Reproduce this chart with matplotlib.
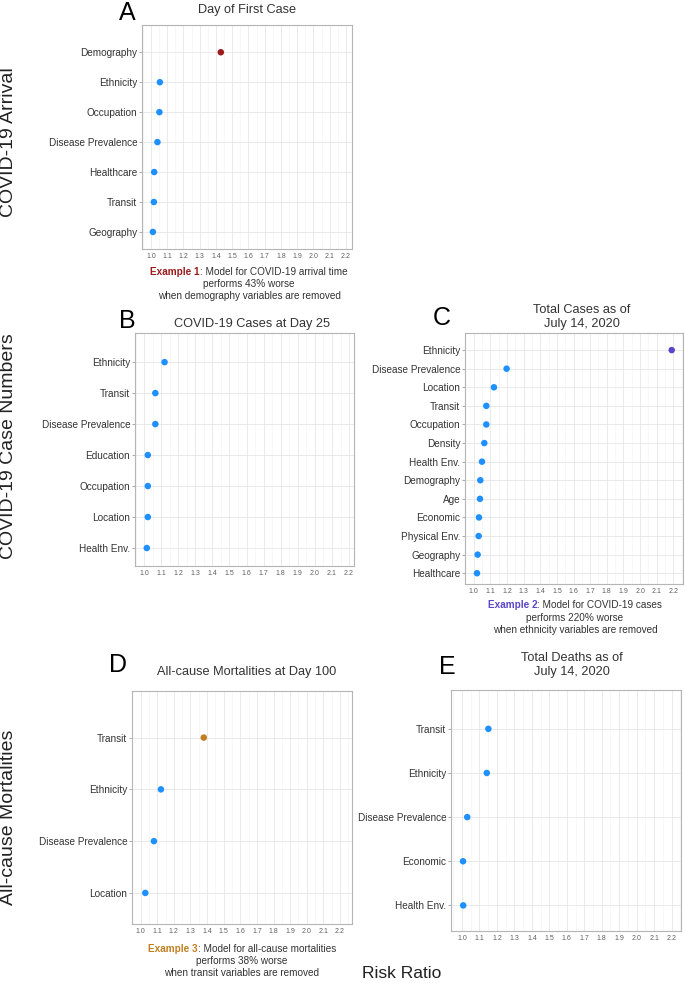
"""
Risk ratio dot panels (A-E): how much worse each model performs when a
variable group is removed.
"""

import matplotlib
matplotlib.use("Agg")
import matplotlib.pyplot as plt
from matplotlib.ticker import MultipleLocator

plt.rcParams["font.family"] = ["Liberation Sans", "DejaVu Sans"]

W, H = 685, 983

# ---- data (top category first) ----
a_labels = ["Demography", "Ethnicity", "Occupation", "Disease Prevalence",
            "Healthcare", "Transit", "Geography"]
a_values = [1.43, 1.055, 1.052, 1.04, 1.02, 1.018, 1.012]

b_labels = ["Ethnicity", "Transit", "Disease Prevalence", "Education",
            "Occupation", "Location", "Health Env."]
b_values = [1.12, 1.066, 1.066, 1.022, 1.022, 1.022, 1.016]

c_labels = ["Ethnicity", "Disease Prevalence", "Location", "Transit",
            "Occupation", "Density", "Health Env.", "Demography", "Age",
            "Economic", "Physical Env.", "Geography", "Healthcare"]
c_values = [2.19, 1.198, 1.122, 1.076, 1.076, 1.064, 1.05, 1.04, 1.038,
            1.032, 1.03, 1.024, 1.02]

d_labels = ["Transit", "Ethnicity", "Disease Prevalence", "Location"]
d_values = [1.38, 1.122, 1.08, 1.028]

e_labels = ["Transit", "Ethnicity", "Disease Prevalence", "Economic",
            "Health Env."]
e_values = [1.151, 1.142, 1.03, 1.006, 1.007]

x_ticks = [1.0, 1.1, 1.2, 1.3, 1.4, 1.5, 1.6, 1.7, 1.8, 1.9, 2.0, 2.1, 2.2]

BLUE = "#1e90ff"
RED = "#9b1b1b"
PURPLE = "#5b45c8"
ORANGE = "#c07f20"
TXT = "#333333"

# (labels, values, highlight index, highlight colour, box px, xlim, ylim pads)
panels = {
    "A": (a_labels, a_values, 0, RED, (142, 25, 352, 249), (0.945, 2.237), (0.57, 0.91)),
    "B": (b_labels, b_values, None, None, (135, 333, 354, 566), (0.947, 2.229), (0.58, 0.94)),
    "C": (c_labels, c_values, 0, PURPLE, (465, 333, 683, 584), (0.948, 2.258), (0.58, 0.92)),
    "D": (d_labels, d_values, 0, ORANGE, (132, 691, 352, 924), (0.948, 2.272), (0.60, 0.90)),
    "E": (e_labels, e_values, None, None, (451, 690, 681, 931), (0.937, 2.254), (0.58, 0.88)),
}


def fx(x):
    return x / W


def fy(y):
    return 1 - y / H


fig = plt.figure(figsize=(W / 100, H / 100), dpi=100)
fig.patch.set_facecolor("white")

for key, (labels, values, hi, hi_col, box, xlim, pads) in panels.items():
    x0, y0, x1, y1 = box
    ax = fig.add_axes([fx(x0), fy(y1), (x1 - x0) / W, (y1 - y0) / H])
    n = len(labels)
    ys = list(range(n - 1, -1, -1))
    cols = [hi_col if i == hi else BLUE for i in range(n)]
    ax.scatter(values, ys, s=22, c=cols, zorder=3, linewidths=0)
    ax.set_xlim(*xlim)
    ax.set_ylim(-pads[0], n - 1 + pads[1])
    ax.set_yticks(ys)
    ax.set_yticklabels(labels, fontsize=7.2, color=TXT)
    ax.set_xticks(x_ticks)
    ax.set_xticklabels([f"{t:.1f}" for t in x_ticks], fontsize=5, color="#606060")
    ax.xaxis.set_minor_locator(MultipleLocator(0.05))
    ax.grid(True, which="major", color="#e6e6e6", linewidth=0.6)
    ax.grid(True, which="minor", axis="x", color="#f1f1f1", linewidth=0.4)
    ax.set_axisbelow(True)
    ax.tick_params(axis="y", length=2, width=0.5, color="#888888", pad=1.5)
    ax.tick_params(axis="x", length=0, pad=3)
    ax.tick_params(axis="x", which="minor", length=0)
    for sp in ax.spines.values():
        sp.set_color("#b5b5b5")
        sp.set_linewidth(0.8)

# panel titles
title_kw = dict(fontsize=9.2, color=TXT, ha="center", va="center", linespacing=1.3)
fig.text(fx(247), fy(10), "Day of First Case", **title_kw)
fig.text(fx(252), fy(324), "COVID-19 Cases at Day 25", **title_kw)
fig.text(fx(582), fy(317), "Total Cases as of\nJuly 14, 2020", **title_kw)
fig.text(fx(247), fy(672), "All-cause Mortalities at Day 100", **title_kw)
fig.text(fx(572), fy(665), "Total Deaths as of\nJuly 14, 2020", **title_kw)

# panel letters
letter_kw = dict(fontsize=18, color="black", ha="center", va="center")
for letter, (lx, ly) in {"A": (127, 13), "B": (127, 321), "C": (442, 318),
                         "D": (118, 665), "E": (447, 667)}.items():
    fig.text(fx(lx), fy(ly), letter, **letter_kw)

# row labels
row_kw = dict(fontsize=14, color="#222222", rotation=90, ha="center", va="center")
fig.text(fx(9), fy(142), "COVID-19 Arrival", **row_kw)
fig.text(fx(9), fy(446), "COVID-19 Case Numbers", **row_kw)
fig.text(fx(9), fy(817), "All-cause Mortalities", **row_kw)

fig.text(fx(402), fy(974), "Risk Ratio", fontsize=12.5, color="#222222",
         ha="center", va="center")

# captions with a coloured "Example n" lead
renderer = fig.canvas.get_renderer()


def caption(cx, ys, lead, lead_col, rest, lines):
    t1 = fig.text(0, fy(ys[0]), lead, fontsize=7.2, fontweight="bold",
                  color=lead_col, ha="left", va="center")
    t2 = fig.text(0, fy(ys[0]), rest, fontsize=7.2, color=TXT,
                  ha="left", va="center")
    w1 = t1.get_window_extent(renderer).width
    w2 = t2.get_window_extent(renderer).width
    start = cx - (w1 + w2) / 2
    t1.set_x(fx(start))
    t2.set_x(fx(start + w1))
    for y, line in zip(ys[1:], lines):
        fig.text(fx(cx), fy(y), line, fontsize=7.2, color=TXT,
                 ha="center", va="center")


caption(249, (272, 284, 296), "Example 1", RED, ": Model for COVID-19 arrival time",
        ["performs 43% worse", "when demography variables are removed"])
caption(575, (605, 618, 630), "Example 2", PURPLE, ": Model for COVID-19 cases",
        ["performs 220% worse", "when ethnicity variables are removed"])
caption(242, (949, 961, 973), "Example 3", ORANGE, ": Model for all-cause mortalities",
        ["performs 38% worse", "when transit variables are removed"])

fig.savefig("out.png", dpi=100, facecolor="white")
plt.close(fig)
